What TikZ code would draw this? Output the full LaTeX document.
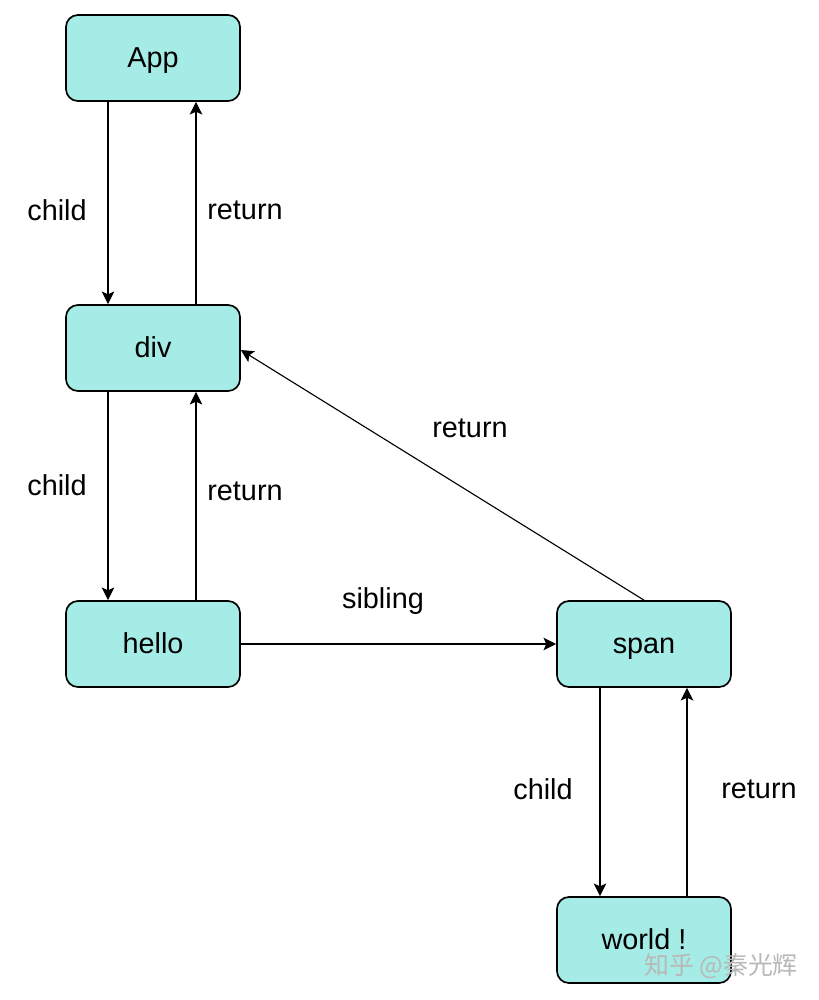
\documentclass[tikz,border=0pt]{standalone}
\usepackage{fontspec}
\setmainfont{Liberation Sans}
\newfontfamily\cjk{Noto Sans CJK SC}
\usetikzlibrary{arrows.meta}
\definecolor{fiber}{RGB}{166,236,230}

\tikzset{
  fbox/.style={draw, fill=fiber, line width=1.2pt, rounded corners=0.3cm,
    minimum width=4.35cm, minimum height=2.15cm, text height=16pt, text depth=2pt,
    font=\fontsize{20.5}{24}\selectfont},
  lbl/.style={font=\fontsize{20.5}{24}\selectfont},
  link/.style={-{Stealth[length=9pt,width=9pt,inset=2pt]}, line width=0.8pt}
}

\begin{document}
\begin{tikzpicture}[x=0.025cm, y=-0.025cm]
  \useasboundingbox (0,0) rectangle (819,1000);
  \node [fbox] (App) at (153,58) {App};
  \node [fbox] (div) at (153,348) {div};
  \node [fbox] (hello) at (153,644) {hello};
  \node [fbox] (span) at (644,644) {span};
  \node [fbox] (world) at (644,940) {world !};

  \draw [link] ([xshift=-1.125cm]App.south) -- ([xshift=-1.125cm]div.north);
  \draw [link] ([xshift=1.075cm]div.north) -- ([xshift=1.075cm]App.south);
  \draw [link] ([xshift=-1.125cm]div.south) -- ([xshift=-1.125cm]hello.north);
  \draw [link] ([xshift=1.075cm]hello.north) -- ([xshift=1.075cm]div.south);
  \draw [link] (hello.east) -- (span.west);
  \draw [link] (span.north) -- ([yshift=-0.05cm]div.east);
  \draw [link] ([xshift=-1.1cm]span.south) -- ([xshift=-1.1cm]world.north);
  \draw [link] ([xshift=1.075cm]world.north) -- ([xshift=1.075cm]span.south);

  \node [lbl] (c1) at (57,210) {child};
  \node [lbl] (r1) at (245,210) {return};
  \node [lbl] (c2) at (57,485) {child};
  \node [lbl] (r2) at (245,491) {return};
  \node [lbl] (sib) at (383,601) {sibling};
  \node [lbl] (r3) at (470,428) {return};
  \node [lbl] (c3) at (543,789) {child};
  \node [lbl] (r4) at (759,789) {return};

  % watermark
  \node [font=\cjk\fontsize{17.7}{20}\selectfont, text=black!28] (wm) at (721,966) {知乎 @秦光辉};
\end{tikzpicture}
\end{document}
